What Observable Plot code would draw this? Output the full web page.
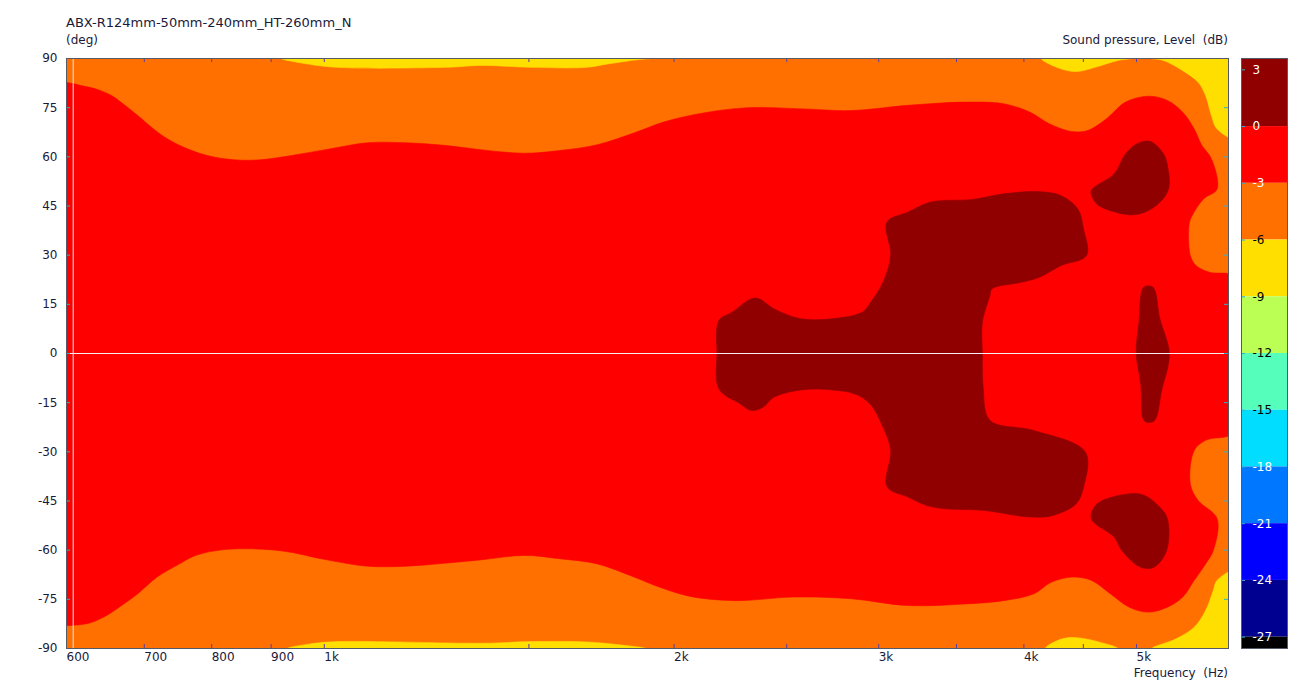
<!DOCTYPE html>
<html><head><meta charset="utf-8">
<script src="https://cdn.jsdelivr.net/npm/d3@7"></script>
<script src="https://cdn.jsdelivr.net/npm/@observablehq/plot@0.6"></script>
<style>
body{margin:0;background:#fff;}
#wrap{position:relative;width:1300px;height:684px;overflow:hidden;font-family:"DejaVu Sans",sans-serif;color:#1a1a3a;}
.lbl{position:absolute;white-space:pre;font-size:12px;line-height:14px;}
#main{position:absolute;left:0;top:0;}
#bar{position:absolute;left:1235px;top:0;}
</style></head><body>
<div id="wrap">
<div id="main"></div><div id="bar"></div>
<div class="lbl" style="left:66px;top:15px;font-size:13px;line-height:16px;">ABX-R124mm-50mm-240mm_HT-260mm_N</div>
<div class="lbl" style="left:66px;top:33px;">(deg)</div>
<div class="lbl" style="right:72px;top:33px;">Sound pressure, Level  (dB)</div>
<div class="lbl" style="right:72px;top:666px;">Frequency  (Hz)</div>
</div>
<script>
// ---- axis ticks ----
const freqTicks = [600, 700, 800, 900, 1000, 2000, 3000, 4000, 5000];
const freqTickLabels = ["600", "700", "800", "900", "1k", "2k", "3k", "4k", "5k"];
const freqMinorTicks = [1500, 2500, 3500, 4500];
const angleTicks = [-90, -75, -60, -45, -30, -15, 0, 15, 30, 45, 60, 75, 90];

// ---- level scale (dB) ----
const levelLabels = [3, 0, -3, -6, -9, -12, -15, -18, -21, -24, -27];
const levelEdges = [3.6, 0, -3, -6, -9, -12, -15, -18, -21, -24, -27, -27.6];
const levelColors = ["#900000", "#ff0000", "#ff7000", "#ffdf00", "#bbff55", "#55ffbb", "#00ddff", "#0077ff", "#0000ff", "#000090", "#000000"];
const levelTextColors = ["#fff", "#fff", "#fff", "#000", "#000", "#000", "#000", "#fff", "#fff", "#fff", "#fff"];

// ---- contour boundaries [frequency Hz, angle deg] ----
// -6 dB (yellow) regions
const yellowTopLeft = [[919, 90], [965, 88.4], [1026, 87.3], [1269, 87.3], [1368, 87.9], [1510, 87.3], [1680, 87.3], [1758, 88.4], [1867, 89.7], [1910, 90]];
const yellowBottomLeft = [[930, -90], [973, -88.6], [1026, -87.9], [1368, -88.4], [1510, -87.9], [1680, -88], [1785, -88.8], [1889, -90]];
const yellowTopLens = [[4143, 90], [4270, 87.3], [4435, 86.0], [4605, 87.3], [4819, 89.4], [4947, 90]];
const yellowTopCorner = [[5150, 90], [5276, 89.4], [5480, 86.3], [5648, 82.8], [5734, 78.7], [5800, 72.6], [5866, 68.5], [6100, 65.5], [6100, 90]];
const yellowBottomLens = [[4175, -90], [4303, -87.2], [4435, -86.7], [4640, -88], [4819, -90]];
const yellowBottomCorner = [[5157, -90], [5397, -87.2], [5606, -83.5], [5734, -78.4], [5822, -72.3], [5866, -69.2], [6100, -66.2], [6100, -90]];

// -3 dB (red) boundary, upper and lower, left to right
const redUpper = [[590, 82.6], [602, 82.6], [622, 81.5], [636, 80.7], [656, 78.7], [671, 76.2], [691, 72.6], [713, 68.5], [729, 66], [757, 62.9], [793, 60.4], [836, 59.1], [881, 59.1], [937, 60.4], [1010, 62.4], [1090, 64.3], [1176, 64.3], [1269, 63.5], [1368, 62.1], [1487, 61.1], [1593, 61.9], [1718, 63.7], [1854, 67.5], [1959, 70.6], [2097, 73.1], [2313, 75.0], [2591, 74.6], [2838, 74.1], [3178, 75.7], [3561, 76.7], [3842, 76.2], [4050, 73.6], [4206, 70.1], [4401, 67.7], [4536, 68.0], [4711, 71.6], [4892, 76.7], [5119, 78.5], [5316, 77.2], [5480, 73.6], [5606, 68.5], [5691, 63.5], [5800, 59.4], [5866, 50.2], [5713, 47.2], [5584, 42.1], [5551, 39.6], [5563, 29.9], [5627, 26.8], [5778, 24.8], [6100, 23]];
const redLower = [[590, -83.0], [602, -83.0], [627, -82.3], [646, -80.4], [666, -77.4], [691, -73.3], [718, -68.2], [746, -64.7], [775, -61.6], [817, -59.9], [868, -59.6], [923, -60.3], [1010, -63.1], [1090, -64.9], [1176, -64.9], [1269, -64], [1368, -62.9], [1487, -61.6], [1593, -62.6], [1718, -64.2], [1854, -68.4], [1944, -71.3], [2065, -74.1], [2262, -75.4], [2533, -74.3], [2838, -74.8], [3178, -76.9], [3561, -76.4], [3842, -75.4], [4081, -73.3], [4222, -69.8], [4401, -68.2], [4571, -69.2], [4747, -73.3], [4929, -77.4], [5119, -78.9], [5316, -77.4], [5480, -74.3], [5606, -69.2], [5734, -64.2], [5822, -60.1], [5866, -50.4], [5648, -44.8], [5563, -39.8], [5606, -29.6], [5734, -26.5], [6100, -23.5]];

// 0 dB (dark red) islands
const darkRedCenter = [[2177, 0], [2186, 10.1], [2244, 12.6], [2331, 16.7], [2367, 16.7], [2439, 13.6], [2572, 10.6], [2733, 10.6], [2903, 12.6], [2947, 15.2], [3026, 21.8], [3072, 29.9], [3049, 40.1], [3178, 43.1], [3326, 46.2], [3615, 47], [3842, 48.7], [4112, 49.4], [4303, 48.2], [4451, 44.1], [4502, 38], [4529, 29.9], [4303, 26.8], [4127, 23.3], [3989, 21.8], [3754, 19.7], [3740, 17.7], [3684, 9.5], [3684, 0],
  [3690, -10.3], [3740, -20.4], [4081, -23.5], [4519, -30.1], [4502, -40.8], [4435, -45.9], [4238, -49.4], [4050, -49.9], [3698, -47.9], [3428, -47.4], [3301, -46.4], [3178, -43.8], [3049, -40.6], [3072, -29.6], [3026, -22.5], [2947, -15.3], [2859, -12.3], [2733, -11.1], [2572, -11.1], [2439, -13.3], [2385, -16.4], [2331, -17.4], [2279, -15.3], [2186, -10.8]];
const darkRedUpper = [[4571, 49.7], [4783, 54.8], [4892, 60.9], [5005, 64], [5138, 64.7], [5276, 60.9], [5316, 57.4], [5328, 50.2], [5197, 45.1], [4967, 42.3], [4640, 45.1], [4588, 47.2]];
const darkRedLower = [[4571, -50.4], [4623, -45.9], [4929, -42.8], [5080, -43.3], [5237, -46.9], [5316, -50.4], [5308, -60.1], [5177, -65.2], [5042, -65.2], [4856, -60.1], [4783, -56]];
const darkRedSpike = [[5072, 20.2], [5166, 20.2], [5237, 10.6], [5336, 0], [5256, -11.3], [5177, -20.6], [5080, -20.6], [5042, -9.2], [4997, 0], [5024, 9.5]];

const cursorFreq = [608];
const cursorAngle = [0];

// ---- build regions ----
const regions = [
  {pts: yellowTopLeft, color: levelColors[3]},
  {pts: yellowBottomLeft, color: levelColors[3]},
  {pts: yellowTopLens, color: levelColors[3]},
  {pts: yellowTopCorner, color: levelColors[3]},
  {pts: yellowBottomLens, color: levelColors[3]},
  {pts: yellowBottomCorner, color: levelColors[3]},
  {pts: redUpper.concat(redLower.slice().reverse()), color: levelColors[1]},
  {pts: darkRedCenter, color: levelColors[0]},
  {pts: darkRedUpper, color: levelColors[0]},
  {pts: darkRedLower, color: levelColors[0]},
  {pts: darkRedSpike, color: levelColors[0]}
];
const polygon = r => Plot.line(r.pts, {x: d => d[0], y: d => d[1], curve: "catmull-rom-closed", fill: r.color, stroke: r.color, strokeWidth: 0.6, clip: true});

const txt = "#1a1a3a";
const main = Plot.plot({
  width: 1240, height: 684,
  marginLeft: 66, marginRight: 12, marginTop: 58, marginBottom: 36,
  x: {type: "log", domain: [600, 6000], axis: null},
  y: {domain: [-90, 90], axis: null},
  style: {fontFamily: "DejaVu Sans, sans-serif", fontSize: "12px", color: txt, background: "transparent", overflow: "visible"},
  marks: [
    Plot.frame({fill: levelColors[2], stroke: null}),
    ...regions.map(polygon),
    Plot.ruleY(cursorAngle, {y: d => d, stroke: "#f6eef0", strokeWidth: 1}),
    Plot.ruleX(cursorFreq, {x: d => d, stroke: "#d6e8f2", strokeWidth: 1}),
    Plot.tickX(freqTicks.concat(freqMinorTicks), {x: d => d, stroke: "#5a3ea0", insetTop: 586}),
    Plot.tickX(freqTicks.concat(freqMinorTicks), {x: d => d, stroke: "#5a3ea0", insetBottom: 586}),
    Plot.tickY(angleTicks, {y: d => d, stroke: "#30b0c8", insetRight: 1158}),
    Plot.tickY(angleTicks, {y: d => d, stroke: "#30b0c8", insetLeft: 1158}),
    Plot.frame({stroke: "#555a66"}),
    Plot.text(freqTicks, {x: d => d, text: (d, i) => freqTickLabels[i], frameAnchor: "bottom", textAnchor: "start", lineAnchor: "top", dy: 4, fill: txt}),
    Plot.text(angleTicks, {y: d => d, text: d => String(d), frameAnchor: "left", textAnchor: "end", dx: -9, fill: txt})
  ]
});
document.getElementById("main").append(main);

const bands = levelColors.map((c, i) => ({top: levelEdges[i], bottom: levelEdges[i + 1], color: c}));
const bar = Plot.plot({
  width: 60, height: 684,
  marginLeft: 6, marginRight: 8, marginTop: 58, marginBottom: 36,
  y: {domain: [levelEdges[levelEdges.length - 1], levelEdges[0]], axis: null},
  color: {type: "identity"},
  style: {fontFamily: "DejaVu Sans, sans-serif", fontSize: "12px", background: "transparent", overflow: "visible"},
  marks: [
    Plot.rect(bands, {y1: "bottom", y2: "top", fill: "color"}),
    Plot.tickY(levelLabels, {y: d => d, stroke: "#30b0c8", insetRight: 42}),
    Plot.text(levelLabels, {y: d => d, text: d => String(d), frameAnchor: "left", dx: 11, textAnchor: "start", fill: (d, i) => levelTextColors[i]}),
    Plot.frame({stroke: "#555a66"})
  ]
});
document.getElementById("bar").append(bar);
</script>
</body></html>
